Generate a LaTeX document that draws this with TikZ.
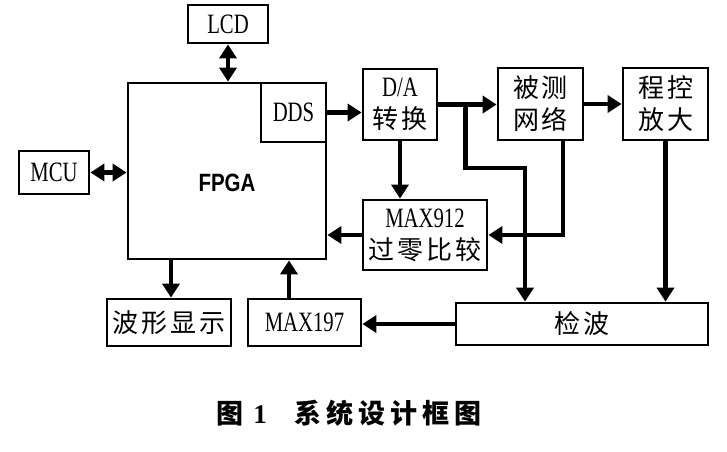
\documentclass[tikz,border=0pt]{standalone}
\usepackage{fontspec}
\usetikzlibrary{arrows.meta,calc}
\newfontfamily\cjk{Noto Sans CJK SC}
\newfontfamily\lat[FakeStretch=0.74]{Liberation Serif}
\newfontfamily\fpgafont[FakeStretch=0.82]{Liberation Sans}
\newfontfamily\capnum{Liberation Serif}
\newcommand\gp{\hspace{3pt}}
\newcommand\latt[1]{{\lat\fontsize{28}{32}\selectfont #1}}
\begin{document}
\begin{tikzpicture}[x=1pt,y=-1pt,
  box/.style={draw,line width=2.8pt,inner sep=0pt,align=center,
    font=\cjk\fontsize{26}{32}\selectfont},
  conn/.style={line width=4.5pt,-{Triangle[width=17pt,length=14pt]}},
  dconn/.style={line width=4.5pt,{Triangle[width=17pt,length=14pt]}-{Triangle[width=17pt,length=14pt]}},
  plain/.style={line width=4.5pt}]
\useasboundingbox (0,0) rectangle (727,451);

% boxes
\node[box,minimum width=80pt,minimum height=38pt] (LCD) at (228,24) {\latt{LCD}};
\node[box,minimum width=198pt,minimum height=176pt] (FPGA) at (227,171) {};
\node[font=\fpgafont\bfseries\fontsize{25}{30}\selectfont] (FPGAt) at (227,183) {FPGA};
\node[box,minimum width=65pt,minimum height=59pt] (DDS) at (293.5,112.5) {\latt{DDS}};
\node[box,minimum width=70pt,minimum height=43pt] (MCU) at (54,172.5) {\latt{MCU}};
\node[box,minimum width=74pt,minimum height=71pt] (DA) at (400,104.5) {\latt{D/A}\\转\gp 换};
\node[box,minimum width=85pt,minimum height=72pt] (NW) at (540.5,104) {被\gp 测\\网\gp 络};
\node[box,minimum width=85pt,minimum height=72pt] (AMP) at (665.5,104) {程\gp 控\\放\gp 大};
\node[box,minimum width=124pt,minimum height=70pt] (CMP) at (425,235) {\latt{MAX912}\\过\gp 零\gp 比\gp 较};
\node[box,minimum width=124pt,minimum height=47pt] (WAV) at (169,322.5) {波\gp 形\gp 显\gp 示};
\node[box,minimum width=113pt,minimum height=47pt] (ADC) at (304.5,322.5) {\latt{MAX197}};
\node[box,minimum width=252pt,minimum height=42pt] (DET) at (582,324) {检\gp 波};

% connectors
\draw[dconn] (LCD.south) -- (LCD.south |- FPGA.north);
\draw[dconn] (MCU.east) -- (MCU.east -| FPGA.west);
\draw[conn] (DDS.east) -- (DDS.east -| DA.west);
\draw[conn] (DA.east) -- (DA.east -| NW.west);
\draw[conn] (NW.east) -- (NW.east -| AMP.west);
\draw[conn] (DA.south) -- (DA.south |- CMP.north);
\coordinate (b1) at ($(DA.east)+(27,0)$);
\coordinate (br) at (525,168);
\draw[conn] (b1) |- (br) -- (br |- DET.north);
\coordinate (nws) at ($(NW.south)+(22.5,0)$);
\draw[conn] (nws) |- (CMP.east);
\draw[conn] (CMP.west) -- (CMP.west -| FPGA.east);
\draw[conn] (AMP.south) -- (AMP.south |- DET.north);
\draw[conn] (DET.west) -- (DET.west -| ADC.east);
\coordinate (adcu) at ($(ADC.north)+(-15.5,0)$);
\draw[conn] (adcu) -- (adcu |- FPGA.south);
\coordinate (wavu) at ($(WAV.north)+(2,0)$);
\draw[conn] (wavu |- FPGA.south) -- (wavu);

% caption
\node[font=\cjk\bfseries\fontsize{27}{30}\selectfont] (cap) at (349,413)
  {图\hspace{10pt}{\capnum\bfseries 1}\hspace{28pt}系\hspace{5pt}统\hspace{5pt}设\hspace{5pt}计\hspace{5pt}框\hspace{5pt}图};
\end{tikzpicture}
\end{document}
